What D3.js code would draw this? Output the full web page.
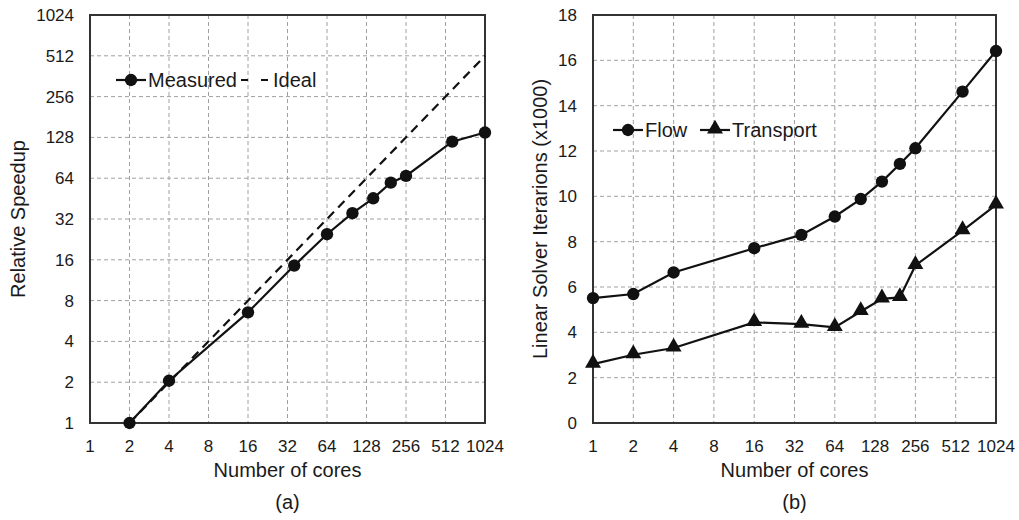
<!DOCTYPE html>
<html>
<head>
<meta charset="utf-8">
<script src="https://cdn.jsdelivr.net/npm/d3@7"></script>
<style>
  body { margin: 0; background: #fff; }
  text { font-family: "Liberation Sans", Arial, sans-serif; fill: #1a1a1a; }
</style>
</head>
<body>
<div id="chart"></div>
<script>
// tick values shared by both panels
var coreTicks = [1, 2, 4, 8, 16, 32, 64, 128, 256, 512, 1024];
var speedupTicks = [1, 2, 4, 8, 16, 32, 64, 128, 256, 512, 1024];
var iterTicks = [0, 2, 4, 6, 8, 10, 12, 14, 16, 18];

// panel (a)
var speedCores = [2, 4, 16, 36, 64, 100, 144, 196, 256, 576, 1024];
var measured = [1, 2.05, 6.55, 14.5, 24.7, 35.3, 45.5, 59.3, 66.5, 119, 139];
var idealCores = [2, 1024];
var ideal = [1, 512];

// panel (b)
var iterCores = [1, 2, 4, 16, 36, 64, 100, 144, 196, 256, 576, 1024];
var flow = [5.51, 5.69, 6.64, 7.71, 8.30, 9.11, 9.88, 10.65, 11.43, 12.12, 14.62, 16.41];
var transport = [2.60, 3.01, 3.31, 4.44, 4.36, 4.22, 4.92, 5.48, 5.54, 6.95, 8.49, 9.62];

var W = 1019, H = 520;
var svg = d3.select("#chart").append("svg")
  .attr("width", W).attr("height", H);

// draws frame, grid and tick labels; returns scales
function panel(box, yScaleType, yDomain, yTicks, yTitle, yTitleX, caption) {
  var x = d3.scaleLog().base(2).domain([1, 1024]).range([box.left, box.right]);
  var y = (yScaleType === "log" ? d3.scaleLog().base(2) : d3.scaleLinear())
    .domain(yDomain).range([box.bottom, box.top]);

  var g = svg.append("g");

  // grid
  g.selectAll(".vgrid").data(coreTicks.slice(1, -1))
    .enter().append("line")
    .attr("x1", function(d) { return x(d); }).attr("x2", function(d) { return x(d); })
    .attr("y1", box.top).attr("y2", box.bottom)
    .attr("stroke", "#a0a0a0").attr("stroke-width", 1).attr("stroke-dasharray", "4,3");
  g.selectAll(".hgrid").data(yTicks.slice(1, -1))
    .enter().append("line")
    .attr("y1", function(d) { return y(d); }).attr("y2", function(d) { return y(d); })
    .attr("x1", box.left).attr("x2", box.right)
    .attr("stroke", "#a0a0a0").attr("stroke-width", 1).attr("stroke-dasharray", "4,3");

  // frame
  g.append("rect")
    .attr("x", box.left).attr("y", box.top)
    .attr("width", box.right - box.left).attr("height", box.bottom - box.top)
    .attr("fill", "none").attr("stroke", "#333").attr("stroke-width", 2);

  // x tick labels
  g.selectAll(".xt").data(coreTicks)
    .enter().append("text")
    .attr("x", function(d) { return x(d); })
    .attr("y", box.bottom + 29)
    .attr("text-anchor", "middle")
    .style("font-size", "17px")
    .text(function(d) { return d; });

  // y tick labels
  g.selectAll(".yt").data(yTicks)
    .enter().append("text")
    .attr("x", box.left - 16)
    .attr("y", function(d) { return y(d) + 6; })
    .attr("text-anchor", "end")
    .style("font-size", "17px")
    .text(function(d) { return d; });

  g.append("text")
    .attr("x", (box.left + box.right) / 2).attr("y", box.bottom + 54)
    .attr("text-anchor", "middle").style("font-size", "20px")
    .text("Number of cores");

  g.append("text")
    .attr("transform", "translate(" + yTitleX + "," + (box.top + box.bottom) / 2 + ") rotate(-90)")
    .attr("text-anchor", "middle").style("font-size", "20px")
    .text(yTitle);

  g.append("text")
    .attr("x", (box.left + box.right) / 2).attr("y", 509)
    .attr("text-anchor", "middle").style("font-size", "20px")
    .text(caption);

  return { x: x, y: y };
}

function series(sc, xs, ys, marker, dash) {
  var pts = xs.map(function(d, i) { return [sc.x(d), sc.y(ys[i])]; });
  svg.append("path")
    .attr("d", d3.line()(pts))
    .attr("fill", "none").attr("stroke", "#111").attr("stroke-width", 2.2)
    .attr("stroke-dasharray", dash ? "9,6" : null);
  if (!marker) return;
  var sym = d3.symbol().type(marker === "circle" ? d3.symbolCircle : d3.symbolTriangle)
    .size(marker === "circle" ? 120 : 110);
  svg.selectAll(null).data(pts)
    .enter().append("path")
    .attr("d", sym)
    .attr("transform", function(d) { return "translate(" + d[0] + "," + (d[1] + (marker === "circle" ? 0 : -1)) + ")"; })
    .attr("fill", "#111");
}

function legendItem(x0, y0, label, marker, dash) {
  svg.append("line")
    .attr("x1", x0).attr("x2", x0 + 30).attr("y1", y0).attr("y2", y0)
    .attr("stroke", "#111").attr("stroke-width", 2.2)
    .attr("stroke-dasharray", dash ? "7,13" : null);
  if (marker) {
    svg.append("path")
      .attr("d", d3.symbol().type(marker === "circle" ? d3.symbolCircle : d3.symbolTriangle)
        .size(marker === "circle" ? 120 : 110))
      .attr("transform", "translate(" + (x0 + 15) + "," + (y0 + (marker === "circle" ? 0 : -1)) + ")")
      .attr("fill", "#111");
  }
  svg.append("text")
    .attr("x", x0 + 32).attr("y", y0 + 7)
    .style("font-size", "20px")
    .text(label);
}

// panel (a)
var a = panel({ left: 90, right: 485, top: 15, bottom: 423 }, "log", [1, 1024], speedupTicks,
  "Relative Speedup", 25, "(a)");
series(a, idealCores, ideal, null, true);
series(a, speedCores, measured, "circle", false);
legendItem(116, 80, "Measured", "circle", false);
legendItem(241, 80, "Ideal", null, true);

// panel (b)
var b = panel({ left: 593, right: 996, top: 15, bottom: 423 }, "linear", [0, 18], iterTicks,
  "Linear Solver Iterarions (x1000)", 547, "(b)");
series(b, iterCores, transport, "triangle", false);
series(b, iterCores, flow, "circle", false);
legendItem(613, 130, "Flow", "circle", false);
legendItem(700, 130, "Transport", "triangle", false);
</script>
</body>
</html>
